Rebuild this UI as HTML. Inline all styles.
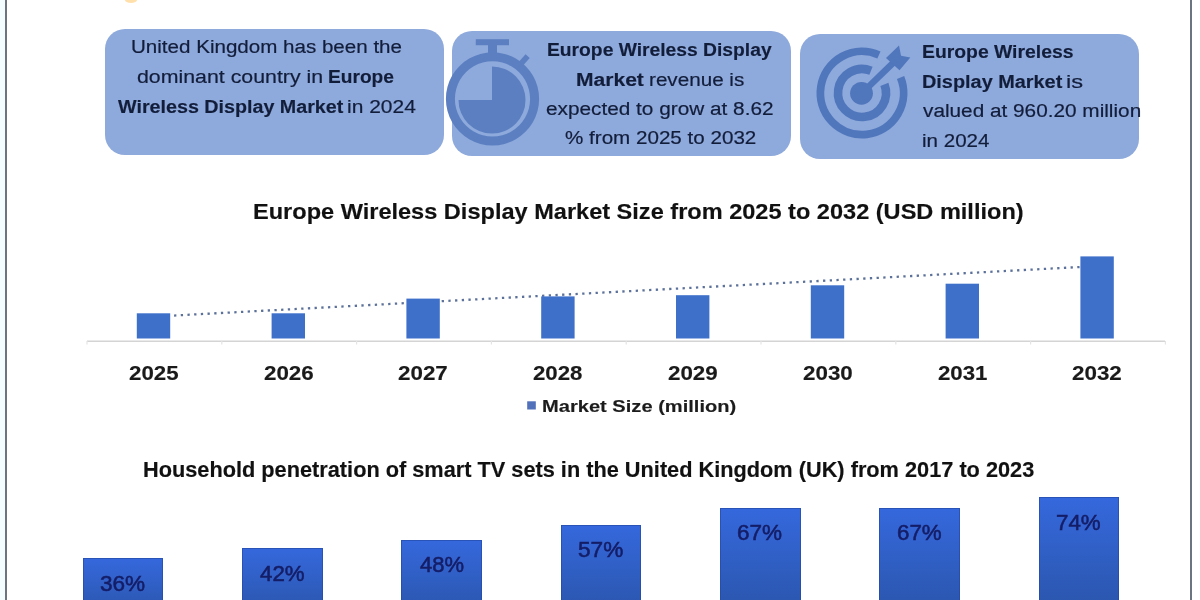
<!DOCTYPE html>
<html lang="en"><head><meta charset="utf-8"><title>Europe Wireless Display Market</title>
<style>
html,body{margin:0;padding:0;background:#fff}
body{width:1200px;height:600px;position:relative;overflow:hidden;font-family:"Liberation Sans", sans-serif}
.t{position:absolute;white-space:nowrap;line-height:1;transform-origin:0 0;margin:0;padding:0}
b{-webkit-text-stroke:.15px currentColor}
.box{position:absolute;background:#8ea9db;border-radius:20px}
.bar1{position:absolute;background:#4472c4}
.bar2{position:absolute;background:linear-gradient(#3568dd,#2a55aa);box-shadow:inset 0 0 0 1px rgba(35,70,160,.6)}
svg{position:absolute;left:0;top:0}
#pg{position:absolute;left:0;top:0;width:1200px;height:600px;filter:blur(.45px)}
</style></head>
<body><div id="pg">
<div style="position:absolute;left:0;top:0;width:5px;height:600px;background:#f3fcff"></div>
<div style="position:absolute;left:5px;top:0;width:2px;height:600px;background:#6b7480"></div>
<div style="position:absolute;left:1190px;top:0;width:1.5px;height:600px;background:#6b7480"></div>
<div class="box" style="left:105px;top:29px;width:339.2px;height:125.5px"></div>
<div class="box" style="left:452.3px;top:31px;width:338.9px;height:125.2px"></div>
<div class="box" style="left:799.5px;top:33.8px;width:339.7px;height:125.5px"></div>
<div class="bar2" style="left:82.8px;top:558px;width:80.6px;height:57.5px"></div>
<div class="bar2" style="left:242.1px;top:548px;width:80.6px;height:67.5px"></div>
<div class="bar2" style="left:401.4px;top:539.5px;width:80.6px;height:76.0px"></div>
<div class="bar2" style="left:560.7px;top:524.5px;width:80.6px;height:91.0px"></div>
<div class="bar2" style="left:720.0px;top:507.5px;width:80.6px;height:108.0px"></div>
<div class="bar2" style="left:879.3px;top:507.5px;width:80.6px;height:108.0px"></div>
<div class="bar2" style="left:1038.6px;top:497.3px;width:80.6px;height:118.2px"></div>
<svg width="1200" height="600" viewBox="0 0 1200 600">
<ellipse cx="131" cy="0" rx="6" ry="3" fill="#ffc766" opacity=".55"/>
<!-- axis -->
<line x1="87" y1="341.3" x2="1165" y2="341.3" stroke="#d4d4d4" stroke-width="1.5"/>
<g stroke="#e4e4e4" stroke-width="1.2"><line x1="87.0" y1="341" x2="87.0" y2="344.5"/><line x1="221.8" y1="341" x2="221.8" y2="344.5"/><line x1="356.6" y1="341" x2="356.6" y2="344.5"/><line x1="491.4" y1="341" x2="491.4" y2="344.5"/><line x1="626.2" y1="341" x2="626.2" y2="344.5"/><line x1="761.0" y1="341" x2="761.0" y2="344.5"/><line x1="895.8" y1="341" x2="895.8" y2="344.5"/><line x1="1030.6" y1="341" x2="1030.6" y2="344.5"/><line x1="1165.4" y1="341" x2="1165.4" y2="344.5"/></g>
<!-- trendline -->
<line x1="154" y1="316.6" x2="1097" y2="266.1" stroke="#5c7199" stroke-width="2.3" stroke-dasharray="2.3 4.4"/>
<g fill="#3e70ca"><rect x="136.8" y="313.3" width="33.4" height="25.2"/><rect x="271.6" y="313.3" width="33.4" height="25.2"/><rect x="406.4" y="298.6" width="33.4" height="39.9"/><rect x="541.2" y="296.4" width="33.4" height="42.1"/><rect x="676.0" y="295.2" width="33.4" height="43.3"/><rect x="810.8" y="285.3" width="33.4" height="53.2"/><rect x="945.6" y="283.7" width="33.4" height="54.8"/><rect x="1080.4" y="256.4" width="33.4" height="82.1"/></g>
<!-- legend key -->
<rect x="527.2" y="401.3" width="8.6" height="8.2" fill="#5271bb"/>
<!-- stopwatch icon -->
<g fill="#5b7fc1">
<path fill-rule="evenodd" d="M492.5 52.3a46.6 46.6 0 1 0 .01 0zM492.5 61.3a37.6 37.6 0 1 1 -.01 0z"/>
<path d="M492 100V66.5a33.5 33.5 0 1 1 -33.5 33.5z"/>
<rect x="475.8" y="39.2" width="33.2" height="6"/>
<rect x="488" y="44" width="9" height="10"/>
<rect x="-2.8" y="-5" width="5.6" height="10" transform="translate(524.3 59.8) rotate(42)"/>
</g>
<!-- target icon -->
<g fill="none" stroke="#5076bc">
<path stroke-width="7.8" d="M878.92 55.00A41.6 41.6 0 1 0 900.57 77.42"/>
<path stroke-width="8.6" d="M870.99 70.75A24 24 0 1 0 884.41 84.40"/>
<line x1="862" y1="93" x2="896" y2="60.2" stroke-width="6.5"/>
</g>
<circle cx="861.5" cy="93.3" r="11.4" fill="#5076bc"/>
<path fill="#5076bc" d="M886 58L899 45.5L901 55.8L910.3 57.5L899.5 70.2z"/>
</svg>
<div id="b1l1" class="t" style="left:130.7px;top:36.95px;font-size:19.2px;color:#121d3a;-webkit-text-stroke:.2px #121d3a;transform:scaleX(1.0719);">United Kingdom has been the</div>
<div id="b1l2a" class="t" style="left:137.0px;top:67.15px;font-size:19.2px;color:#121d3a;-webkit-text-stroke:.2px #121d3a;transform:scaleX(1.1113);">dominant country in</div>
<div id="b1l2b" class="t" style="left:328.0px;top:67.15px;font-size:19.2px;color:#121d3a;-webkit-text-stroke:.2px #121d3a;transform:scaleX(0.9966);"><b>Europe</b></div>
<div id="b1l3a" class="t" style="left:117.6px;top:96.55px;font-size:19.2px;color:#121d3a;-webkit-text-stroke:.2px #121d3a;transform:scaleX(1.0265);"><b>Wireless Display Market</b></div>
<div id="b1l3b" class="t" style="left:347.2px;top:96.55px;font-size:19.2px;color:#121d3a;-webkit-text-stroke:.2px #121d3a;transform:scaleX(1.0932);">in 2024</div>
<div id="b2l1" class="t" style="left:547.0px;top:40.05px;font-size:19.2px;color:#121d3a;-webkit-text-stroke:.2px #121d3a;transform:scaleX(1.0037);"><b>Europe Wireless Display</b></div>
<div id="b2l2a" class="t" style="left:575.9px;top:69.75px;font-size:19.2px;color:#121d3a;-webkit-text-stroke:.2px #121d3a;transform:scaleX(1.0974);"><b>Market</b></div>
<div id="b2l2b" class="t" style="left:649.0px;top:69.75px;font-size:19.2px;color:#121d3a;-webkit-text-stroke:.2px #121d3a;transform:scaleX(1.0760);">revenue is</div>
<div id="b2l3" class="t" style="left:546.2px;top:98.85px;font-size:19.2px;color:#121d3a;-webkit-text-stroke:.2px #121d3a;transform:scaleX(1.0828);">expected to grow at 8.62</div>
<div id="b2l4" class="t" style="left:564.6px;top:128.05px;font-size:19.2px;color:#121d3a;-webkit-text-stroke:.2px #121d3a;transform:scaleX(1.0739);">% from 2025 to 2032</div>
<div id="b3l1" class="t" style="left:921.8px;top:42.15px;font-size:19.2px;color:#121d3a;-webkit-text-stroke:.2px #121d3a;transform:scaleX(1.0084);"><b>Europe Wireless</b></div>
<div id="b3l2a" class="t" style="left:921.7px;top:71.95px;font-size:19.2px;color:#121d3a;-webkit-text-stroke:.2px #121d3a;transform:scaleX(1.0357);"><b>Display Market</b></div>
<div id="b3l2b" class="t" style="left:1065.5px;top:71.95px;font-size:19.2px;color:#121d3a;-webkit-text-stroke:.2px #121d3a;transform:scaleX(1.2322);">is</div>
<div id="b3l3" class="t" style="left:922.7px;top:101.35px;font-size:19.2px;color:#121d3a;-webkit-text-stroke:.2px #121d3a;transform:scaleX(1.0823);">valued at 960.20 million</div>
<div id="b3l4" class="t" style="left:921.6px;top:131.25px;font-size:19.2px;color:#121d3a;-webkit-text-stroke:.2px #121d3a;transform:scaleX(1.0715);">in 2024</div>
<div id="t1" class="t" style="left:252.6px;top:200.95px;font-size:22.5px;color:#111;transform:scaleX(1.0466);"><b>Europe Wireless Display Market Size from 2025 to 2032 (USD million)</b></div>
<div id="leg" class="t" style="left:542.3px;top:397.91px;font-size:17.0px;color:#1c1c1c;transform:scaleX(1.1819);"><b>Market Size (million)</b></div>
<div id="t2" class="t" style="left:143.0px;top:458.55px;font-size:21.8px;color:#111;transform:scaleX(0.9972);"><b>Household penetration of smart TV sets in the United Kingdom (UK) from 2017 to 2023</b></div>
<div id="y2025" class="t" style="left:128.7px;top:363.22px;font-size:20.3px;color:#1a1a1a;transform:scaleX(1.0986);"><b>2025</b></div>
<div id="y2026" class="t" style="left:263.9px;top:363.22px;font-size:20.3px;color:#1a1a1a;transform:scaleX(1.1022);"><b>2026</b></div>
<div id="y2027" class="t" style="left:398.2px;top:363.22px;font-size:20.3px;color:#1a1a1a;transform:scaleX(1.1029);"><b>2027</b></div>
<div id="y2028" class="t" style="left:533.4px;top:363.22px;font-size:20.3px;color:#1a1a1a;transform:scaleX(1.0958);"><b>2028</b></div>
<div id="y2029" class="t" style="left:667.6px;top:363.22px;font-size:20.3px;color:#1a1a1a;transform:scaleX(1.1025);"><b>2029</b></div>
<div id="y2030" class="t" style="left:802.7px;top:363.22px;font-size:20.3px;color:#1a1a1a;transform:scaleX(1.1027);"><b>2030</b></div>
<div id="y2031" class="t" style="left:937.9px;top:363.22px;font-size:20.3px;color:#1a1a1a;transform:scaleX(1.0968);"><b>2031</b></div>
<div id="y2032" class="t" style="left:1072.2px;top:363.22px;font-size:20.3px;color:#1a1a1a;transform:scaleX(1.1032);"><b>2032</b></div>
<div id="p0" class="t" style="left:99.8px;top:573.05px;font-size:21.8px;color:#141d66;-webkit-text-stroke:.55px #141d66;transform:scaleX(1.0355);">36%</div>
<div id="p1" class="t" style="left:260.1px;top:562.85px;font-size:21.8px;color:#141d66;-webkit-text-stroke:.55px #141d66;transform:scaleX(1.0211);">42%</div>
<div id="p2" class="t" style="left:420.1px;top:554.05px;font-size:21.8px;color:#141d66;-webkit-text-stroke:.55px #141d66;transform:scaleX(1.0083);">48%</div>
<div id="p3" class="t" style="left:578.3px;top:538.85px;font-size:21.8px;color:#141d66;-webkit-text-stroke:.55px #141d66;transform:scaleX(1.0383);">57%</div>
<div id="p4" class="t" style="left:737.2px;top:522.35px;font-size:21.8px;color:#141d66;-webkit-text-stroke:.55px #141d66;transform:scaleX(1.0336);">67%</div>
<div id="p5" class="t" style="left:897.2px;top:522.35px;font-size:21.8px;color:#141d66;-webkit-text-stroke:.55px #141d66;transform:scaleX(1.0241);">67%</div>
<div id="p6" class="t" style="left:1055.7px;top:512.25px;font-size:21.8px;color:#141d66;-webkit-text-stroke:.55px #141d66;transform:scaleX(1.0230);">74%</div>
</div></body></html>
